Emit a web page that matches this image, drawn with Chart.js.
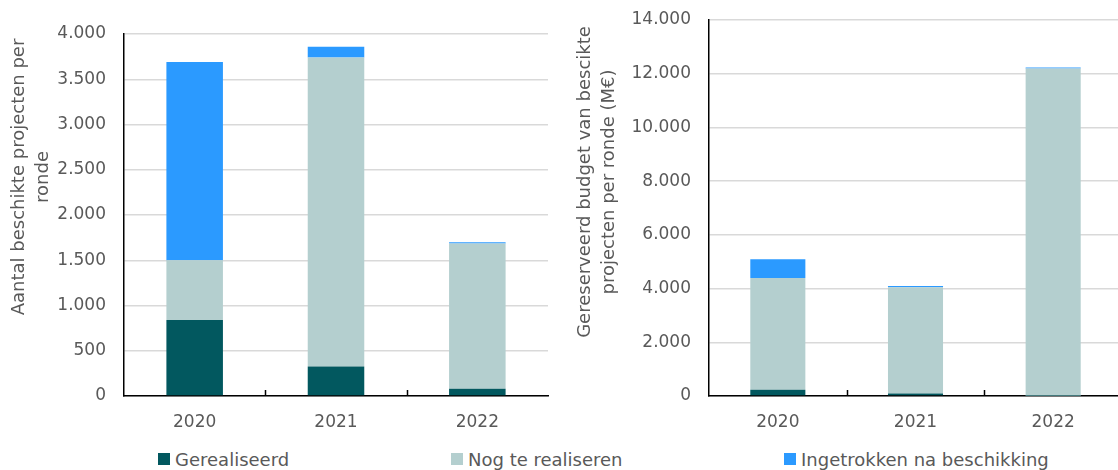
<!DOCTYPE html>
<html>
<head>
<meta charset="utf-8">
<script src="https://cdn.jsdelivr.net/npm/chart.js@4/dist/chart.umd.min.js"></script>
<style>
    html, body { margin: 0; padding: 0; background: #fff; }
    body { width: 1118px; height: 470px; overflow: hidden; position: relative; font-family: "DejaVu Sans", sans-serif; }
    #left { position: absolute; left: 0; top: 0; }
    #right { position: absolute; left: 560px; top: 0; }
    .legend-item { position: absolute; top: 448px; height: 22px; display: flex; align-items: center; color: #595959; font-size: 18px; white-space: nowrap; }
    .legend-item span.box { display: inline-block; width: 12px; height: 12px; margin-right: 5px; }
</style>
</head>
<body>
<canvas id="left" width="560" height="440"></canvas>
<canvas id="right" width="600" height="440"></canvas>
<div id="legend"></div>

<script>
// categories + series
const years = ['2020', '2021', '2022'];
const seriesNames = ['Gerealiseerd', 'Nog te realiseren', 'Ingetrokken na beschikking'];
const seriesColors = ['#02585f', '#b4cfcf', '#2b9aff'];

// left: aantal beschikte projecten
const projGerealiseerd = [840, 325, 80];
const projNogTeRealiseren = [660, 3415, 1605];
const projIngetrokken = [2190, 120, 15];

// right: gereserveerd budget (M€)
const budgetGerealiseerd = [230, 90, 5];
const budgetNogTeRealiseren = [4160, 3960, 12190];
const budgetIngetrokken = [700, 50, 40];

const leftTitle = ['Aantal beschikte projecten per', 'ronde'];
const rightTitle = ['Gereserveerd budget van bescikte', 'projecten per ronde (M€)'];

const textColor = '#595959';
const fontFamily = '"DejaVu Sans", sans-serif';

function fmt(v) {
    return String(v).replace(/\B(?=(\d{3})+(?!\d))/g, '.');
}

// draws rotated axis title lines + small tick marks pointing up between categories
const axisDecor = {
    id: 'axisDecor',
    afterDraw(chart, args, opts) {
        const ctx = chart.ctx;
        const area = chart.chartArea;
        const x = chart.scales.x;

        ctx.save();
        ctx.strokeStyle = '#000';
        ctx.lineWidth = 1.5;
        for (let i = 1; i < x.ticks.length; i++) {
            const px = Math.round((x.getPixelForTick(i - 1) + x.getPixelForTick(i)) / 2) + 0.5;
            ctx.beginPath();
            ctx.moveTo(px, area.bottom);
            ctx.lineTo(px, area.bottom - 6);
            ctx.stroke();
        }
        ctx.restore();

        ctx.save();
        ctx.fillStyle = textColor;
        ctx.font = '18px ' + fontFamily;
        ctx.textAlign = 'center';
        ctx.textBaseline = 'middle';
        opts.lines.forEach((line, i) => {
            ctx.save();
            ctx.translate(opts.x + i * 24, opts.y);
            ctx.rotate(-Math.PI / 2);
            ctx.fillText(line, 0, 0);
            ctx.restore();
        });
        ctx.restore();
    }
};

function makeChart(id, data, yMax, yStep, yWidth, padTop, padRight, title) {
    new Chart(document.getElementById(id).getContext('2d'), {
        type: 'bar',
        data: {
            labels: years,
            datasets: data.map((d, i) => ({
                label: seriesNames[i],
                data: d,
                backgroundColor: seriesColors[i],
                borderWidth: 0,
                barPercentage: 0.4,
                categoryPercentage: 1,
            })),
        },
        options: {
            responsive: false,
            animation: false,
            layout: {
                padding: { top: padTop, right: padRight, left: 0, bottom: 0 }
            },
            plugins: {
                legend: { display: false },
                tooltip: { enabled: false },
                axisDecor: title,
            },
            scales: {
                x: {
                    stacked: true,
                    afterFit: (scale) => { scale.height = 44; },
                    grid: { display: false, drawTicks: false },
                    border: { display: true, color: '#000', width: 1.5 },
                    ticks: {
                        color: textColor,
                        padding: 16,
                        font: { family: fontFamily, size: 17 },
                    },
                },
                y: {
                    stacked: true,
                    min: 0,
                    max: yMax,
                    afterFit: (scale) => {
                        scale.width = yWidth;
                        // keep the layout padding as the real top of the plot
                        scale.paddingTop = 0;
                        scale.paddingBottom = 0;
                    },
                    grid: { color: '#d9d9d9', lineWidth: 1.5, drawTicks: false },
                    border: { display: true, color: '#000', width: 1.5 },
                    ticks: {
                        stepSize: yStep,
                        color: textColor,
                        padding: 18,
                        font: { family: fontFamily, size: 17 },
                        callback: (value) => fmt(value),
                    },
                },
            },
        },
        plugins: [axisDecor],
    });
}

makeChart('left', [projGerealiseerd, projNogTeRealiseren, projIngetrokken],
    4000, 500, 124, 34, 12, { lines: leftTitle, x: 19, y: 177 });

makeChart('right', [budgetGerealiseerd, budgetNogTeRealiseren, budgetIngetrokken],
    14000, 2000, 149, 20, 38, { lines: rightTitle, x: 25, y: 182 });

// shared legend under both charts
const legendLeft = [158, 451, 784];
const legend = document.getElementById('legend');
seriesNames.forEach((name, i) => {
    const item = document.createElement('div');
    item.className = 'legend-item';
    item.style.left = legendLeft[i] + 'px';
    item.innerHTML = '<span class="box" style="background:' + seriesColors[i] + '"></span>' + name;
    legend.appendChild(item);
});
</script>
</body>
</html>
